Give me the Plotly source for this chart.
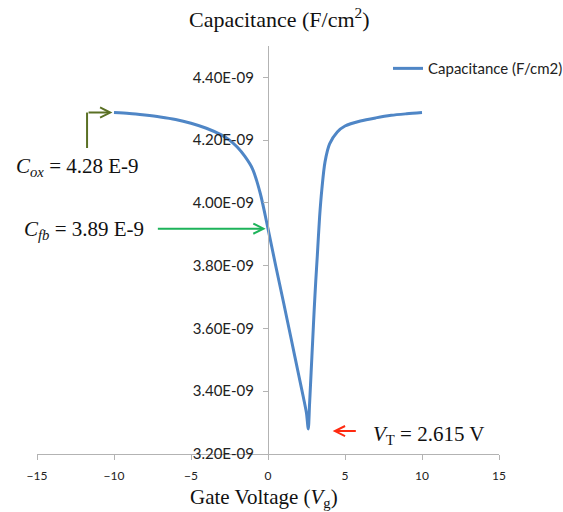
import plotly.graph_objects as go

# Data
gate_voltage = [-10, -9, -8, -7, -6, -5, -4, -3, -2.5, -2, -1.5, -1, -0.5, 0,
                0.5, 1, 1.5, 2, 2.3, 2.5, 2.615, 2.7, 2.8, 2.9, 3.0, 3.1, 3.2,
                3.35, 3.5, 3.7, 4.0, 4.5, 5, 6, 7, 8, 9, 10]
capacitance_e9 = [4.288, 4.285, 4.280, 4.274, 4.266, 4.254, 4.238, 4.216, 4.200,
                  4.178, 4.148, 4.108, 4.030, 3.918, 3.800, 3.685, 3.568, 3.450,
                  3.380, 3.330, 3.280, 3.360, 3.460, 3.560, 3.660, 3.750, 3.830,
                  3.955, 4.045, 4.130, 4.188, 4.226, 4.245, 4.261, 4.271, 4.279,
                  4.284, 4.288]
capacitance = [c * 1e-9 for c in capacitance_e9]

y_tick_vals = [3.2e-9, 3.4e-9, 3.6e-9, 3.8e-9, 4.0e-9, 4.2e-9, 4.4e-9]
y_tick_text = ["3.20E-09", "3.40E-09", "3.60E-09", "3.80E-09", "4.00E-09", "4.20E-09", "4.40E-09"]
x_tick_vals = [-15, -10, -5, 0, 5, 10, 15]

# Annotation reference values
cox_v, cox_c = -10.1, 4.288e-9
cox_stem_v, cox_stem_c = -11.75, 4.175e-9
cfb_v, cfb_c = -0.15, 3.918e-9
cfb_tail_v = -7.25
vt_head_v, vt_tail_v, vt_c = 4.2, 5.8, 3.273e-9

serif = "Liberation Serif"
sans = "Lato"

fig = go.Figure()
fig.add_trace(go.Scatter(
    x=gate_voltage, y=capacitance, mode="lines",
    name="Capacitance (F/cm2)",
    line=dict(color="#4F86C6", width=3, shape="spline", smoothing=0.8),
))

axis_col = "#B3B3B3"
fig.update_layout(
    width=563, height=512,
    margin=dict(l=37, r=64, t=46, b=58, autoexpand=False),
    paper_bgcolor="white", plot_bgcolor="white",
    showlegend=True,
    legend=dict(x=(388 - 37) / 462, y=0.985, xanchor="left", yanchor="top",
                font=dict(family=sans, size=15, color="#222"),
                bgcolor="rgba(0,0,0,0)", itemwidth=30),
    xaxis=dict(range=[-15, 15], tickvals=x_tick_vals,
               showgrid=False, zeroline=False, showline=True, linecolor=axis_col,
               linewidth=1, ticks="outside", ticklen=5, tickcolor=axis_col,
               tickfont=dict(family=sans, size=12, color="#222"),
               ticklabelstandoff=6),
    yaxis=dict(range=[3.2e-9, 4.5e-9], tickvals=y_tick_vals, ticktext=y_tick_text,
               anchor="free", position=0.5,
               showgrid=False, zeroline=False, showline=True, linecolor=axis_col,
               linewidth=1, ticks="outside", ticklen=5, tickcolor=axis_col,
               tickfont=dict(family=sans, size=15, color="#222"),
               ticklabelstandoff=6),
)

# Title and axis title
fig.add_annotation(text="Capacitance (F/cm<sup>2</sup>)", xref="paper", yref="paper",
                   x=(279 - 37) / 462, y=(454 - 18) / 408, showarrow=False,
                   font=dict(family=serif, size=22, color="#111"),
                   xanchor="center", yanchor="middle")
fig.add_annotation(text="Gate Voltage (<i>V</i><sub>g</sub>)", xref="paper", yref="paper",
                   x=(264 - 37) / 462, y=(454 - 498) / 408, showarrow=False,
                   font=dict(family=serif, size=21, color="#111"),
                   xanchor="center", yanchor="middle")

# Cox annotation with olive bent arrow
olive = "#5A7024"
fig.add_shape(type="line", x0=cox_stem_v, x1=cox_stem_v, y0=cox_stem_c, y1=cox_c,
              line=dict(color=olive, width=2))
fig.add_annotation(x=cox_v, y=cox_c, ax=cox_stem_v, ay=cox_c, axref="x", ayref="y",
                   showarrow=True, arrowhead=5, arrowsize=1, arrowwidth=2,
                   arrowcolor=olive, text="")
fig.add_annotation(text="<i>C</i><sub><i>ox</i></sub> = 4.28 E-9", xref="paper", yref="paper",
                   x=(14 - 37) / 462, y=(454 - 167) / 408, showarrow=False,
                   xanchor="left", yanchor="middle",
                   font=dict(family=serif, size=21, color="#111"))

# Cfb annotation with green arrow
green = "#1DB35A"
fig.add_annotation(x=cfb_v, y=cfb_c, ax=cfb_tail_v, ay=cfb_c, axref="x", ayref="y",
                   showarrow=True, arrowhead=5, arrowsize=1, arrowwidth=2,
                   arrowcolor=green, text="")
fig.add_annotation(text="<i>C</i><sub><i>fb</i></sub> = 3.89 E-9", xref="paper", yref="paper",
                   x=(22 - 37) / 462, y=(454 - 230) / 408, showarrow=False,
                   xanchor="left", yanchor="middle",
                   font=dict(family=serif, size=21, color="#111"))

# VT annotation with red arrow
red = "#FF2A10"
fig.add_annotation(x=vt_head_v, y=vt_c, ax=vt_tail_v, ay=vt_c, axref="x", ayref="y",
                   showarrow=True, arrowhead=5, arrowsize=1, arrowwidth=2,
                   arrowcolor=red, text="")
fig.add_annotation(text="<i>V</i><sub>T</sub> = 2.615 V", xref="paper", yref="paper",
                   x=(371 - 37) / 462, y=(454 - 435) / 408, showarrow=False,
                   xanchor="left", yanchor="middle",
                   font=dict(family=serif, size=21, color="#111"))

fig.write_html("out.html")
